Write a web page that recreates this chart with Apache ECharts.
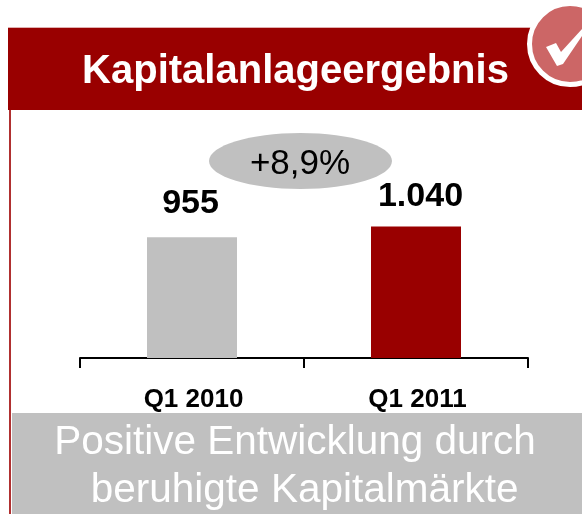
<!DOCTYPE html>
<html><head><meta charset="utf-8"><style>html,body{margin:0;padding:0;background:#fff}#c{width:582px;height:514px}</style>
<script src="https://cdn.jsdelivr.net/npm/echarts@6/dist/echarts.min.js"></script></head>
<body><div id="c"></div><script>
const categories = ['Q1 2010','Q1 2011'];
const values = [955,1040];
const barColors = ['#c0c0c0','#990000'];
const labelOffsets = [[-1.5,-1],[4.5,3]];
const titleText = 'Kapitalanlageergebnis';
const growthText = '+8,9%';
const noteLines = ['Positive Entwicklung durch',' beruhigte Kapitalmärkte'];
const font = '"Liberation Sans", Arial, sans-serif';
const chart = echarts.init(document.getElementById('c'),null,{renderer:'canvas'});
chart.setOption({
  animation:false,
  grid:{left:80,width:448,top:105,height:253,containLabel:false},
  xAxis:{type:'category',data:categories,boundaryGap:true,
    axisLine:{lineStyle:{color:'#000',width:2}},
    axisTick:{show:true,length:10,alignWithLabel:false,lineStyle:{color:'#000',width:2}},
    axisLabel:{color:'#000',fontFamily:font,fontWeight:'bold',fontSize:26,margin:29,interval:0,padding:[0,0,0,3]}},
  yAxis:{type:'value',min:0,max:2000,show:false,splitLine:{show:false}},
  series:[{type:'bar',barWidth:90,z:2,
    data:values.map((v,i)=>({value:v,itemStyle:{color:barColors[i]},label:{offset:labelOffsets[i]}})),
    label:{show:true,position:'top',distance:16,color:'#000',fontFamily:font,fontWeight:'bold',fontSize:34,
      formatter:p=>p.value>=1000?Math.floor(p.value/1000)+'.'+String(p.value%1000).padStart(3,'0'):String(p.value)}}],
  graphic:[
    {type:'rect',z:1,shape:{x:8,y:27,width:574,height:1},style:{fill:'#e0b0b0'}},
    {type:'rect',z:1,shape:{x:8,y:28,width:574,height:82},style:{fill:'#990000'}},
    {type:'rect',z:1,shape:{x:9,y:110,width:2,height:404},style:{fill:'#b03030'}},
    {type:'text',z:3,style:{x:295.5,y:72,text:titleText,fill:'#fff',font:'bold 40px '+font,textAlign:'center',textVerticalAlign:'middle'}},
    {type:'circle',z:3,shape:{cx:570,cy:44,r:40.5},style:{fill:'#cc6666',stroke:'#fff',lineWidth:5}},
    {type:'polygon',z:4,shape:{points:[[546,47],[556,43],[561,52],[582,29],[582,36],[563,64],[557,66]]},style:{fill:'#fff'}},
    {type:'ellipse',z:3,shape:{cx:300.5,cy:161,rx:91.5,ry:28},style:{fill:'#c0c0c0'}},
    {type:'text',z:4,style:{x:300,y:164,text:growthText,fill:'#000',font:'35px '+font,textAlign:'center',textVerticalAlign:'middle'}},
    {type:'rect',z:3,shape:{x:12,y:413,width:570,height:101},style:{fill:'#c0c0c0'}},
    {type:'text',z:4,style:{x:295,y:443,text:noteLines[0],fill:'#fff',font:'40.5px '+font,textAlign:'center',textVerticalAlign:'middle'}},
    {type:'text',z:4,style:{x:299,y:491,text:noteLines[1],fill:'#fff',font:'40.5px '+font,textAlign:'center',textVerticalAlign:'middle'}}
  ]
});
</script></body></html>
